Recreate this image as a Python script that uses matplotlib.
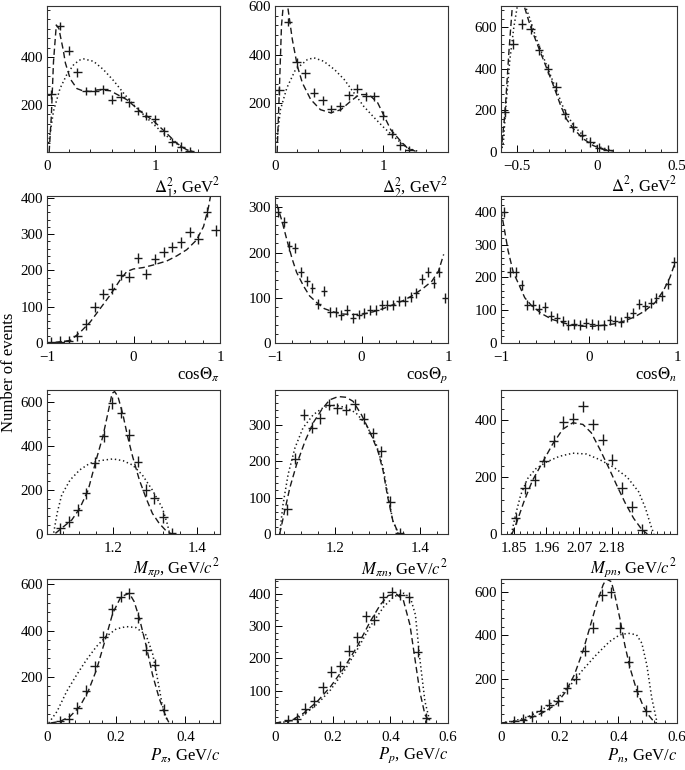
#!/usr/bin/env python3
"""Distributions of pi- d -> p n pi- style kinematic variables: data vs. two MC models."""
import matplotlib
matplotlib.use("Agg")
import matplotlib.pyplot as plt
from matplotlib.ticker import AutoMinorLocator, FixedLocator

plt.rcParams["font.family"] = ["Liberation Serif", "DejaVu Serif"]
plt.rcParams["mathtext.fontset"] = "stix"
plt.rcParams["font.size"] = 10.5

# ---- panel 1: Delta_1^2
D1_X = [0.04, 0.12, 0.20, 0.28, 0.36, 0.44, 0.52, 0.60, 0.68, 0.76, 0.84,
        0.92, 1.00, 1.08, 1.16, 1.24, 1.32]
D1_Y = [243, 531, 427, 335, 256, 256, 264, 220, 233, 209, 172, 152, 138, 87, 43, 23, 5]
D1_DASH_X = [0.02, 0.04, 0.06, 0.086, 0.11, 0.123, 0.15, 0.17, 0.215, 0.277, 0.33,
             0.40, 0.47, 0.585, 0.74, 0.86, 0.985, 1.11, 1.20, 1.29, 1.36]
D1_DASH_Y = [0, 150, 380, 535, 520, 490, 430, 375, 308, 267, 258, 255, 262, 258,
             220, 172, 131, 77, 37, 10, 0]
D1_DOT_X = [0.015, 0.06, 0.12, 0.185, 0.25, 0.31, 0.34, 0.43, 0.52, 0.615, 0.71,
            0.80, 0.92, 1.046, 1.17, 1.29, 1.35]
D1_DOT_Y = [37, 172, 267, 328, 370, 389, 392, 382, 348, 301, 247, 199, 145, 91, 43, 10, 0]

# ---- panel 2: Delta_2^2
D2_X = [0.04, 0.12, 0.20, 0.28, 0.36, 0.44, 0.52, 0.60, 0.68, 0.76, 0.84,
        0.92, 1.00, 1.08, 1.16, 1.24]
D2_Y = [254, 534, 369, 323, 243, 213, 177, 188, 233, 260, 229, 229, 150, 76, 27, 7]
D2_DASH_X = [0.02, 0.04, 0.06, 0.08, 0.10, 0.12, 0.16, 0.207, 0.253, 0.33, 0.42,
             0.515, 0.61, 0.70, 0.78, 0.87, 0.95, 1.01, 1.07, 1.15, 1.225, 1.30]
D2_DASH_Y = [0, 250, 520, 620, 630, 590, 463, 353, 284, 216, 174, 161, 174, 209,
             236, 236, 202, 147, 92, 51, 16, 3]
D2_DOT_X = [0.015, 0.05, 0.11, 0.19, 0.30, 0.36, 0.45, 0.55, 0.64, 0.73, 0.82,
            0.92, 1.01, 1.13, 1.225, 1.32]
D2_DOT_Y = [37, 174, 264, 339, 380, 387, 373, 339, 298, 243, 188, 140, 99, 51, 16, 3]

# ---- panel 3: Delta^2
D3_X = [-0.575, -0.522, -0.468, -0.415, -0.361, -0.308, -0.254, -0.201, -0.148,
        -0.094, -0.041, 0.012, 0.066]
D3_Y = [192, 518, 616, 589, 487, 400, 311, 181, 118, 82, 47, 20, 8]
D3_DASH_X = [-0.60, -0.58, -0.57, -0.55, -0.53, -0.51, -0.49, -0.453, -0.42, -0.39,
             -0.35, -0.31, -0.27, -0.226, -0.19, -0.146, -0.085, -0.024, 0.036, 0.10]
D3_DASH_Y = [0, 150, 247, 487, 690, 760, 750, 694, 612, 550, 471, 393, 314, 220,
             157, 110, 63, 31, 13, 5]
D3_DOT_X = [-0.60, -0.585, -0.571, -0.545, -0.52, -0.50, -0.48, -0.45, -0.42, -0.38,
            -0.33, -0.287, -0.25, -0.206, -0.146, -0.065, 0.016, 0.10]
D3_DOT_Y = [0, 47, 204, 440, 597, 690, 730, 705, 640, 545, 445, 361, 290, 204,
            126, 63, 24, 6]

# ---- panel 4: cos Theta_pi
D4_X = [-0.95, -0.85, -0.75, -0.65, -0.55, -0.45, -0.35, -0.25, -0.15, -0.05,
        0.05, 0.15, 0.25, 0.35, 0.45, 0.55, 0.65, 0.75, 0.85, 0.95]
D4_Y = [2, 4, 6, 19, 51, 100, 135, 150, 187, 182, 234, 190, 231, 250, 264, 277,
        305, 286, 362, 310]
D4_DASH_X = [-0.90, -0.73, -0.615, -0.50, -0.385, -0.27, -0.154, -0.077, 0.0, 0.115,
             0.23, 0.385, 0.50, 0.615, 0.73, 0.81, 0.865, 0.89]
D4_DASH_Y = [2, 7, 30, 58, 95, 132, 174, 197, 204, 208, 215, 226, 240, 257, 284,
             321, 372, 404]

# ---- panel 5: cos Theta_p
COS_BINS = [-0.967, -0.900, -0.833, -0.767, -0.700, -0.633, -0.567, -0.500, -0.433,
            -0.367, -0.300, -0.233, -0.167, -0.100, -0.033, 0.033, 0.100, 0.167,
            0.233, 0.300, 0.367, 0.433, 0.500, 0.567, 0.633, 0.700, 0.767, 0.833,
            0.900, 0.967]
D5_Y = [290, 267, 215, 211, 156, 137, 121, 87, 115, 69, 69, 61, 73, 56, 63, 67, 74,
        72, 84, 84, 84, 93, 93, 101, 111, 141, 156, 133, 156, 100]
D5_DASH_X = [-0.98, -0.92, -0.86, -0.80, -0.75, -0.67, -0.60, -0.515, -0.43, -0.33,
             -0.21, -0.10, 0.02, 0.136, 0.25, 0.37, 0.485, 0.60, 0.72, 0.815, 0.89, 0.95]
D5_DASH_Y = [307, 270, 226, 185, 156, 126, 104, 89, 76, 69, 64, 63, 64, 69, 76, 85,
             94, 106, 122, 137, 159, 196]

# ---- panel 6: cos Theta_n
D6_Y = [400, 217, 217, 176, 115, 115, 103, 110, 82, 77, 67, 54, 58, 54, 62, 58, 54,
        54, 69, 67, 65, 79, 92, 118, 113, 123, 136, 144, 179, 248]
D6_DASH_X = [-1.0, -0.96, -0.92, -0.86, -0.80, -0.73, -0.65, -0.535, -0.42, -0.30,
             -0.19, -0.07, 0.05, 0.16, 0.28, 0.40, 0.515, 0.63, 0.75, 0.845, 0.92, 0.98]
D6_DASH_Y = [405, 344, 282, 215, 180, 138, 113, 89, 72, 62, 54, 51, 51, 54, 58, 67,
             79, 97, 123, 159, 200, 246]

# ---- panel 7: M_pi p
D7_X = [1.075, 1.095, 1.116, 1.136, 1.157, 1.178, 1.198, 1.219, 1.239, 1.259,
        1.279, 1.299, 1.320, 1.340]
D7_Y = [26, 56, 109, 185, 325, 447, 596, 553, 451, 330, 200, 163, 76, 3]
D7_DASH_X = [1.063, 1.082, 1.102, 1.121, 1.141, 1.160, 1.176, 1.188, 1.198, 1.204,
             1.212, 1.224, 1.235, 1.247, 1.263, 1.279, 1.294, 1.310, 1.325, 1.337]
D7_DASH_Y = [3, 33, 64, 117, 200, 337, 444, 550, 641, 649, 626, 542, 444, 352, 246,
             163, 94, 49, 18, 3]
D7_DOT_X = [1.059, 1.067, 1.078, 1.098, 1.121, 1.145, 1.168, 1.200, 1.224, 1.247,
            1.270, 1.294, 1.318, 1.329, 1.335]
D7_DOT_Y = [6, 94, 178, 246, 292, 322, 334, 342, 334, 314, 269, 200, 117, 49, 3]

# ---- panel 8: M_pi n
D8_X = [1.088, 1.107, 1.127, 1.147, 1.166, 1.187, 1.206, 1.227, 1.247, 1.268,
        1.289, 1.310, 1.331, 1.353]
D8_Y = [68, 207, 327, 291, 318, 355, 345, 341, 356, 316, 277, 227, 89, 2]
D8_DASH_X = [1.070, 1.082, 1.094, 1.110, 1.130, 1.149, 1.169, 1.188, 1.208, 1.227,
             1.243, 1.263, 1.282, 1.302, 1.314, 1.325, 1.337, 1.349]
D8_DASH_Y = [0, 64, 127, 191, 255, 305, 341, 368, 377, 375, 364, 327, 282, 227,
             173, 100, 36, 5]
D8_DOT_X = [1.070, 1.078, 1.090, 1.106, 1.125, 1.149, 1.173, 1.200, 1.227, 1.250,
            1.274, 1.298, 1.314, 1.325, 1.337, 1.349]
D8_DOT_Y = [0, 82, 164, 236, 291, 327, 347, 353, 347, 332, 300, 245, 182, 109, 36, 3]

# ---- panel 9: M_pn
D9_X = [1.856, 1.888, 1.920, 1.952, 1.984, 2.017, 2.051, 2.083, 2.117, 2.149,
        2.182, 2.215, 2.248, 2.282]
D9_Y = [55, 162, 188, 255, 327, 394, 405, 449, 385, 331, 261, 162, 96, 15]
D9_DASH_X = [1.844, 1.861, 1.884, 1.913, 1.947, 1.981, 2.015, 2.049, 2.083, 2.111,
             2.140, 2.169, 2.197, 2.226, 2.254, 2.282, 2.300]
D9_DASH_Y = [0, 44, 113, 188, 252, 316, 368, 391, 385, 356, 298, 235, 171, 108,
             55, 15, 0]
D9_DOT_X = [1.842, 1.856, 1.873, 1.896, 1.924, 1.958, 2.004, 2.049, 2.095, 2.140,
            2.186, 2.232, 2.271, 2.294, 2.311, 2.322]
D9_DOT_Y = [0, 67, 136, 194, 229, 252, 273, 284, 281, 261, 235, 200, 148, 90, 32, 0]

# ---- panel 10: P_pi
D10_X = [0.0375, 0.0625, 0.0875, 0.1125, 0.1375, 0.1625, 0.1875, 0.2125, 0.2375,
         0.2625, 0.2875, 0.3125, 0.3375]
D10_Y = [7, 19, 65, 140, 245, 374, 492, 547, 561, 456, 317, 252, 58]
D10_DASH_X = [0.010, 0.038, 0.067, 0.095, 0.119, 0.143, 0.167, 0.190, 0.214, 0.238,
              0.252, 0.267, 0.286, 0.305, 0.324, 0.343, 0.352]
D10_DASH_Y = [0, 7, 29, 72, 137, 230, 353, 475, 547, 561, 525, 453, 338, 209, 108,
              29, 3]
D10_DOT_X = [0.005, 0.029, 0.057, 0.086, 0.114, 0.143, 0.171, 0.200, 0.229, 0.257,
             0.286, 0.305, 0.319, 0.333, 0.348]
D10_DOT_Y = [0, 50, 137, 209, 273, 331, 374, 407, 417, 413, 381, 302, 194, 79, 7]

# ---- panel 11: P_p
MOM_BINS = [0.045, 0.075, 0.105, 0.135, 0.165, 0.195, 0.225, 0.255, 0.285, 0.315,
            0.345, 0.375, 0.405, 0.435, 0.465, 0.495, 0.525]
D11_Y = [8, 13, 44, 67, 111, 158, 175, 224, 265, 330, 320, 389, 405, 397, 389, 220, 15]
D11_DASH_X = [0.0, 0.055, 0.100, 0.147, 0.193, 0.239, 0.285, 0.330, 0.365, 0.393,
              0.422, 0.445, 0.468, 0.485, 0.502, 0.520, 0.537]
D11_DASH_Y = [0, 7, 31, 67, 113, 170, 237, 314, 366, 395, 399, 381, 304, 201, 98,
              26, 2]
D11_DOT_X = [0.0, 0.055, 0.100, 0.147, 0.193, 0.239, 0.285, 0.330, 0.378, 0.413,
             0.447, 0.470, 0.487, 0.502, 0.520, 0.537]
D11_DOT_Y = [0, 5, 26, 59, 103, 160, 227, 299, 361, 392, 402, 387, 335, 201, 67, 5]

# ---- panel 12: P_n
D12_Y = [8, 15, 30, 56, 84, 102, 160, 202, 330, 436, 585, 597, 436, 278, 147, 56]
D12_DASH_X = [0.0, 0.049, 0.095, 0.141, 0.187, 0.221, 0.250, 0.279, 0.302, 0.325,
              0.348, 0.359, 0.376, 0.388, 0.405, 0.422, 0.440, 0.462, 0.485, 0.502,
              0.520, 0.531]
D12_DASH_Y = [0, 8, 20, 46, 84, 144, 220, 327, 433, 540, 631, 658, 646, 585, 479,
              357, 251, 152, 76, 38, 8, 0]
D12_DOT_X = [0.0, 0.049, 0.095, 0.141, 0.187, 0.233, 0.279, 0.325, 0.370, 0.405,
             0.434, 0.462, 0.480, 0.497, 0.514, 0.531]
D12_DOT_Y = [0, 11, 30, 61, 106, 167, 243, 312, 372, 403, 410, 403, 365, 266, 114, 8]

XLABELS = [r"$\Delta_1^2$, GeV$^2$", r"$\Delta_2^2$, GeV$^2$", r"$\Delta^2$, GeV$^2$",
           r"cos$\Theta_\pi$", r"cos$\Theta_p$", r"cos$\Theta_n$",
           r"$M_{\pi p}$, GeV/$c^2$", r"$M_{\pi n}$, GeV/$c^2$", r"$M_{pn}$, GeV/$c^2$",
           r"$P_\pi$, GeV/$c$", r"$P_p$, GeV/$c$", r"$P_n$, GeV/$c$"]

PANELS = [
    (D1_X, D1_Y, D1_DASH_X, D1_DASH_Y, D1_DOT_X, D1_DOT_Y),
    (D2_X, D2_Y, D2_DASH_X, D2_DASH_Y, D2_DOT_X, D2_DOT_Y),
    (D3_X, D3_Y, D3_DASH_X, D3_DASH_Y, D3_DOT_X, D3_DOT_Y),
    (D4_X, D4_Y, D4_DASH_X, D4_DASH_Y, None, None),
    (COS_BINS, D5_Y, D5_DASH_X, D5_DASH_Y, None, None),
    (COS_BINS, D6_Y, D6_DASH_X, D6_DASH_Y, None, None),
    (D7_X, D7_Y, D7_DASH_X, D7_DASH_Y, D7_DOT_X, D7_DOT_Y),
    (D8_X, D8_Y, D8_DASH_X, D8_DASH_Y, D8_DOT_X, D8_DOT_Y),
    (D9_X, D9_Y, D9_DASH_X, D9_DASH_Y, D9_DOT_X, D9_DOT_Y),
    (D10_X, D10_Y, D10_DASH_X, D10_DASH_Y, D10_DOT_X, D10_DOT_Y),
    (MOM_BINS, D11_Y, D11_DASH_X, D11_DASH_Y, D11_DOT_X, D11_DOT_Y),
    (MOM_BINS[:16], D12_Y, D12_DASH_X, D12_DASH_Y, D12_DOT_X, D12_DOT_Y),
]

# axis cosmetics per panel: xlim, ylim, x major ticks, y major ticks, xerr, yerr
XLIMS = [(0, 1.6), (0, 1.6), (-0.6, 0.5), (-1, 1), (-1, 1), (-1, 1),
         (1.043, 1.455), (1.059, 1.467), (1.807, 2.40), (0, 0.5), (0, 0.6), (0, 0.6)]
YLIMS = [(0, 615), (0, 600), (0, 700), (0, 405), (0, 325), (0, 448),
         (0, 656), (0, 395), (0, 506), (0, 623), (0, 446), (0, 658)]
XTICKS = [[0, 1], [0, 1], [-0.5, 0, 0.5], [-1, 0, 1], [-1, 0, 1], [-1, 0, 1],
          [1.2, 1.4], [1.2, 1.4], [1.85, 1.96, 2.07, 2.18], [0, 0.2, 0.4],
          [0, 0.2, 0.4, 0.6], [0, 0.2, 0.4, 0.6]]
YTICKS = [[200, 400], [200, 400, 600], [0, 200, 400, 600], [0, 100, 200, 300, 400],
          [0, 100, 200, 300], [0, 100, 200, 300, 400], [0, 200, 400, 600],
          [0, 100, 200, 300], [0, 200, 400], [200, 400, 600],
          [100, 200, 300, 400], [200, 400, 600]]
XERR = [0.04, 0.04, 0.026, 0.05, 0.033, 0.033, 0.01, 0.01, 0.016, 0.0125, 0.015, 0.015]
YERR = [18, 18, 24, 14, 11, 15, 26, 15, 20, 24, 17, 26]

# axes boxes in pixels (left, right) and (top, bottom) of a 685x770 canvas
COLS = [(47, 220), (275, 448), (501, 677)]
ROWS = [(6, 152), (196, 343), (390, 534), (579, 723)]
W, H = 685.0, 770.0


def fmt_tick(v):
    if abs(v - round(v)) < 1e-9:
        return ("%d" % round(v)).replace("-", "\u2212")
    return ("%g" % v).replace("-", "\u2212")


def main():
    fig = plt.figure(figsize=(6.85, 7.7), dpi=100)
    for k, (px, py, dx, dy, ox, oy) in enumerate(PANELS):
        r, c = divmod(k, 3)
        l, rr = COLS[c]
        t, b = ROWS[r]
        ax = fig.add_axes([l / W, 1 - b / H, (rr - l) / W, (b - t) / H])
        ax.errorbar(px, py, xerr=XERR[k], yerr=YERR[k], fmt="none",
                    ecolor="#1a1a1a", elinewidth=1.0, capsize=0)
        ax.plot(dx, dy, color="#1a1a1a", lw=1.0, dashes=(4.5, 2.5))
        if ox is not None:
            ax.plot(ox, oy, color="#1a1a1a", lw=1.1, dashes=(0.9, 1.8))
        ax.set_xlim(*XLIMS[k])
        ax.set_ylim(*YLIMS[k])
        ax.xaxis.set_major_locator(FixedLocator(XTICKS[k]))
        ax.yaxis.set_major_locator(FixedLocator(YTICKS[k]))
        ax.set_xticklabels([fmt_tick(v) for v in XTICKS[k]])
        ax.set_yticklabels([fmt_tick(v) for v in YTICKS[k]])
        ax.xaxis.set_minor_locator(AutoMinorLocator(5))
        ax.yaxis.set_minor_locator(AutoMinorLocator(5))
        ax.tick_params(which="major", direction="in", length=5, width=0.7,
                       labelsize=10.8, top=False, right=False)
        ax.tick_params(axis="x", which="major", pad=6)
        ax.tick_params(axis="y", which="major", pad=3)
        ax.tick_params(which="minor", direction="in", length=2.5, width=0.6,
                       top=False, right=False)
        for sp in ax.spines.values():
            sp.set_linewidth(0.8)
            sp.set_color("#333333")
        ax.set_xlabel(XLABELS[k], loc="right", fontsize=12, labelpad=1)
    fig.text(9 / W, 1 - 372 / H, "Number of events", rotation=90,
             ha="center", va="center", fontsize=12)
    fig.savefig("out.png", dpi=100)


if __name__ == "__main__":
    main()
